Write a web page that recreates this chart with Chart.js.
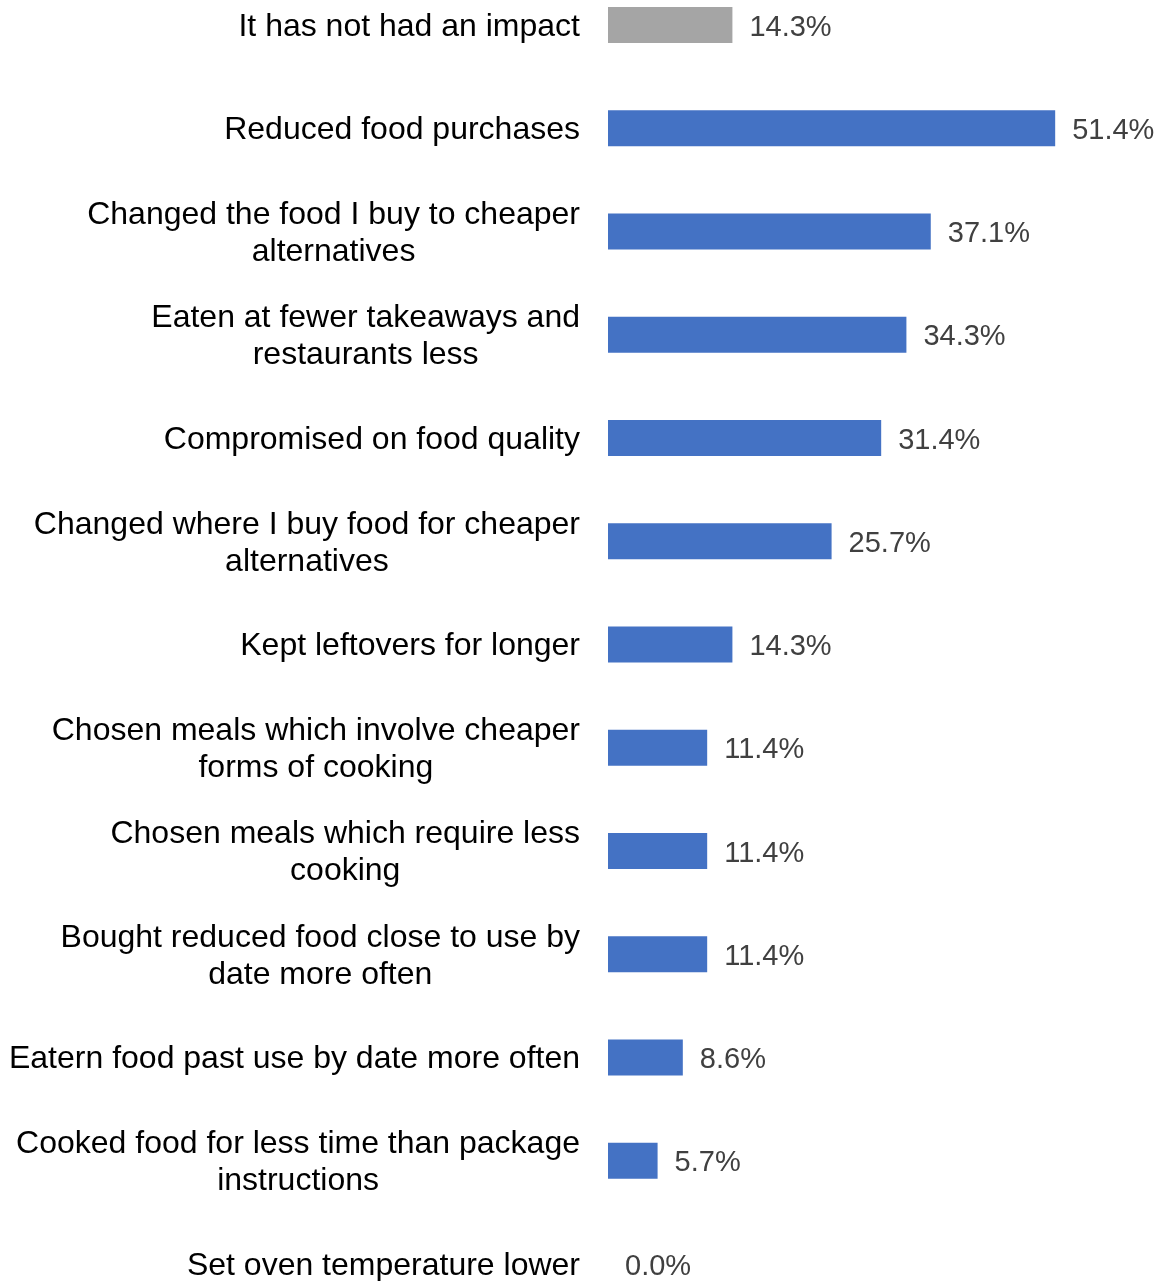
<!DOCTYPE html>
<html>
<head>
<meta charset="utf-8">
<script src="https://cdn.jsdelivr.net/npm/chart.js@4/dist/chart.umd.min.js"></script>
<style>
  html, body { margin: 0; padding: 0; background: #ffffff; }
  #wrap { width: 1163px; height: 1281px; position: relative; }
</style>
</head>
<body>
<div id="wrap"><canvas id="c" width="1163" height="1281"></canvas></div>
<script>
// ---- data ----
const categories = [
  ["It has not had an impact"],
  ["Reduced food purchases"],
  ["Changed the food I buy to cheaper", "alternatives"],
  ["Eaten at fewer takeaways and", "restaurants less"],
  ["Compromised on food quality"],
  ["Changed where I buy food for cheaper", "alternatives"],
  ["Kept leftovers for longer"],
  ["Chosen meals which involve cheaper", "forms of cooking"],
  ["Chosen meals which require less", "cooking"],
  ["Bought reduced food close to use by", "date more often"],
  ["Eatern food past use by date more often"],
  ["Cooked food for less time than package", "instructions"],
  ["Set oven temperature lower"]
];
const values = [14.3, 51.4, 37.1, 34.3, 31.4, 25.7, 14.3, 11.4, 11.4, 11.4, 8.6, 5.7, 0.0];
const barColors = ["#A5A5A5", "#4472C4", "#4472C4", "#4472C4", "#4472C4", "#4472C4", "#4472C4",
                   "#4472C4", "#4472C4", "#4472C4", "#4472C4", "#4472C4", "#4472C4"];

const CAT_FONT = '32px "Liberation Sans", Arial, sans-serif';
const VAL_FONT = '29px "Liberation Sans", Arial, sans-serif';

// category labels: block right-aligned, lines centred within the block
const categoryLabelPlugin = {
  id: 'categoryLabels',
  afterDraw(chart) {
    const ctx = chart.ctx;
    const y = chart.scales.y;
    const rightEdge = chart.chartArea.left - 28;
    const lineH = 37;
    ctx.save();
    ctx.font = CAT_FONT;
    ctx.fillStyle = '#000000';
    ctx.textBaseline = 'middle';
    ctx.textAlign = 'center';
    chart.data.labels.forEach((lines, i) => {
      const cy = y.getPixelForValue(i) + 2;
      const widths = lines.map(l => ctx.measureText(l).width);
      const blockW = Math.max(...widths);
      const cx = rightEdge - blockW / 2;
      const n = lines.length;
      lines.forEach((l, k) => {
        const ly = cy + (k - (n - 1) / 2) * lineH;
        ctx.fillText(l, cx, ly);
      });
    });
    ctx.restore();
  }
};

// value labels at the end of each bar
const valueLabelPlugin = {
  id: 'valueLabels',
  afterDatasetsDraw(chart) {
    const ctx = chart.ctx;
    const meta = chart.getDatasetMeta(0);
    ctx.save();
    ctx.font = VAL_FONT;
    ctx.fillStyle = '#404040';
    ctx.textBaseline = 'middle';
    ctx.textAlign = 'left';
    meta.data.forEach((bar, i) => {
      const v = chart.data.datasets[0].data[i];
      ctx.fillText(v.toFixed(1) + '%', bar.x + 17, bar.y + 2.5);
    });
    ctx.restore();
  }
};

new Chart(document.getElementById('c'), {
  type: 'bar',
  data: {
    labels: categories,
    datasets: [{
      data: values,
      backgroundColor: barColors,
      borderWidth: 0,
      inflateAmount: 0,
      barThickness: 36,
      clip: false
    }]
  },
  options: {
    indexAxis: 'y',
    responsive: false,
    animation: false,
    devicePixelRatio: 1,
    layout: { padding: { top: 25, bottom: 17, left: 0, right: 33 } },
    plugins: { legend: { display: false }, tooltip: { enabled: false }, title: { display: false } },
    scales: {
      x: { display: false, min: 0, max: 60 },
      y: {
        display: true,
        offset: false,
        grid: { display: false },
        border: { display: false },
        ticks: { display: false },
        afterFit(scale) { scale.width = 608; }
      }
    }
  },
  plugins: [categoryLabelPlugin, valueLabelPlugin]
});
</script>
</body>
</html>
